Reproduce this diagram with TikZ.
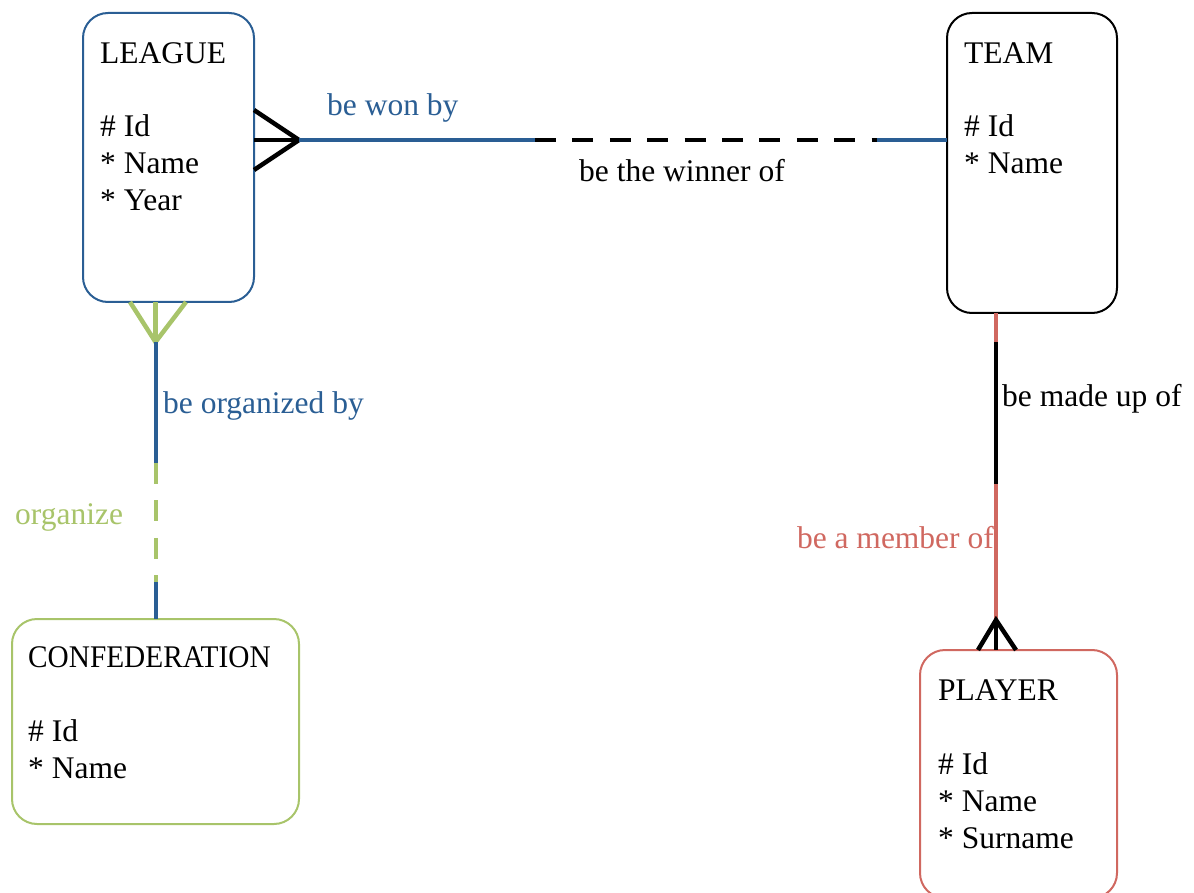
\documentclass[tikz,border=0pt]{standalone}
\usepackage{fontspec}
\setmainfont{Liberation Serif}
\definecolor{erblue}{RGB}{42,94,148}
\definecolor{ergreen}{RGB}{168,196,106}
\definecolor{erred}{RGB}{208,104,96}
\begin{document}
\begin{tikzpicture}[x=1pt,y=-1pt,
  entity/.style={draw=#1, line width=2pt, rounded corners=25pt, inner sep=0pt},
  txt/.style={anchor=base west, inner sep=0pt, font=\fontsize{31.5}{37}\selectfont},
  rel/.style={line width=4pt},
  foot/.style={line width=4.5pt},
  dsh/.style={line width=4pt, dash pattern=on 21pt off 16.4pt}]
\useasboundingbox (0,0) rectangle (1194,893);
% entities
\node[entity=erblue, minimum width=171pt, minimum height=289pt] (league) at (168.5,157.5) {};
\node[entity=black, minimum width=170pt, minimum height=300pt] (team) at (1032,163) {};
\node[entity=ergreen, minimum width=287pt, minimum height=205pt] (confed) at (155.5,721.5) {};
\node[entity=erred, minimum width=197pt, minimum height=248pt] (player) at (1018.5,774) {};
% entity texts
\node[txt] (l0) at (100,64) {LEAGUE};
\node[txt] (l1) at (100,137) {\# Id};
\node[txt] (l2) at (100,174) {* Name};
\node[txt] (l3) at (100,211) {* Year};
\node[txt] (t0) at (964,64) {TEAM};
\node[txt] (t1) at (964,137) {\# Id};
\node[txt] (t2) at (964,174) {* Name};
\node[txt] (c0) at (28,667) {\scalebox{0.93}[1]{CONFEDERATION}};
\node[txt] (c1) at (28,741) {\# Id};
\node[txt] (c2) at (28,778) {* Name};
\node[txt] (p0) at (938,700) {PLAYER};
\node[txt] (p1) at (938,774) {\# Id};
\node[txt] (p2) at (938,811) {* Name};
\node[txt] (p3) at (938,848) {* Surname};
% League - Team
\coordinate (a0) at (254,140);
\coordinate (a0t) at (254,110);
\coordinate (a0b) at (254,170);
\coordinate (a1) at (299,140);
\coordinate (a2) at (535,140);
\coordinate (a3) at (877,140);
\coordinate (a4) at (947,140);
\draw[foot] (a0t) -- (a1) -- (a0b);
\draw[foot] (a0) -- (a1);
\draw[rel, erblue] (a1) -- (a2);
\draw[dsh, black] (a2) -- (a3);
\draw[rel, erblue] (a3) -- (a4);
% League - Confederation
\coordinate (b0) at (155.5,302);
\coordinate (b0l) at (130,302);
\coordinate (b0r) at (186,302);
\coordinate (b1) at (155.5,342);
\coordinate (b2) at (155.5,463);
\coordinate (b3) at (155.5,582);
\coordinate (b4) at (155.5,619);
\draw[foot, ergreen] (b0l) -- (b1) -- (b0r);
\draw[foot, ergreen] (b0) -- (b1);
\draw[rel, erblue] (b1) -- (b2);
\draw[dsh, ergreen] (b2) -- (b3);
\draw[rel, erblue] (b3) -- (b4);
% Team - Player
\coordinate (d0) at (996,313);
\coordinate (d1) at (996,342);
\coordinate (d2) at (996,484);
\coordinate (d3) at (996,620);
\coordinate (d4) at (996,650);
\coordinate (d4l) at (978,650);
\coordinate (d4r) at (1016,650);
\draw[rel, erred] (d0) -- (d1);
\draw[rel, black] (d1) -- (d2);
\draw[rel, erred] (d2) -- (d3);
\draw[foot] (d4l) -- (d3) -- (d4r);
\draw[foot] (d3) -- (d4);
% labels
\node[txt, text=erblue] (lab1) at (327,116) {be won by};
\node[txt] (lab2) at (579,182) {be the winner of};
\node[txt, text=erblue] (lab3) at (163,413) {be organized by};
\node[txt, text=ergreen] (lab4) at (15,524) {organize};
\node[txt] (lab5) at (1002,406) {be made up of};
\node[txt, text=erred, anchor=base east] (lab6) at (994,548) {be a member of};
\end{tikzpicture}
\end{document}
